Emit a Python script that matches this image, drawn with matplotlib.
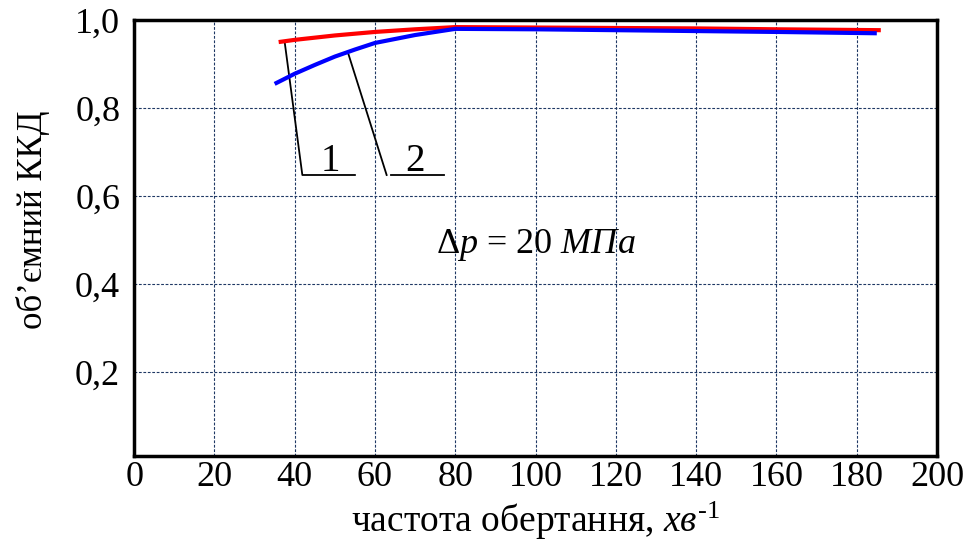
import matplotlib
matplotlib.use("Agg")
import matplotlib.pyplot as plt
from matplotlib.ticker import FixedLocator, FuncFormatter

plt.rcParams['font.family'] = ['Liberation Serif', 'DejaVu Serif']
plt.rcParams['mathtext.fontset'] = 'custom'
plt.rcParams['mathtext.rm'] = 'Liberation Serif'
plt.rcParams['mathtext.it'] = 'Liberation Serif:italic'

# curve 1 (red) and curve 2 (blue): volumetric efficiency vs speed
speed_1 = [36, 40, 50, 60, 70, 80, 100, 120, 140, 160, 186]
eff_1 = [0.950, 0.955, 0.965, 0.973, 0.979, 0.984, 0.983, 0.982, 0.981, 0.979, 0.977]
speed_2 = [35, 40, 45, 50, 55, 60, 70, 80, 100, 120, 140, 160, 185]
eff_2 = [0.855, 0.878, 0.898, 0.917, 0.933, 0.948, 0.966, 0.980, 0.979, 0.977, 0.975, 0.973, 0.970]

x_ticks = [0, 20, 40, 60, 80, 100, 120, 140, 160, 180, 200]
y_ticks = [0.2, 0.4, 0.6, 0.8, 1.0]

# leader lines for curve labels
leader_1_x = [37.5, 41.9, 55.0]
leader_1_y = [0.950, 0.648, 0.648]
leader_2a_x = [53.3, 62.9]
leader_2a_y = [0.925, 0.648]
leader_2b_x = [63.9, 77.1]
leader_2b_y = [0.648, 0.648]

fig = plt.figure(figsize=(9.65, 5.42), dpi=100)
ax = fig.add_axes([0.139, 0.159, 0.832, 0.804])

ax.plot(speed_1, eff_1, color='#ff0000', lw=3.0, solid_capstyle='butt', zorder=3)
ax.plot(speed_2, eff_2, color='#0000ff', lw=3.0, solid_capstyle='butt', zorder=3)

ax.plot(leader_1_x, leader_1_y, color='black', lw=1.3)
ax.plot(leader_2a_x, leader_2a_y, color='black', lw=1.3)
ax.plot(leader_2b_x, leader_2b_y, color='black', lw=1.3)
ax.text(48.8, 0.656, '1', fontsize=28, ha='center', va='baseline')
ax.text(70.0, 0.656, '2', fontsize=28, ha='center', va='baseline')

ax.text(100, 0.49, r'$\Delta\mathit{p}$ = 20 $\mathit{МПа}$', fontsize=26,
        ha='center', va='center')

ax.set_xlim(0, 200)
ax.set_ylim(0.01, 1.0)
ax.xaxis.set_major_locator(FixedLocator(x_ticks))
ax.yaxis.set_major_locator(FixedLocator(y_ticks))
ax.yaxis.set_major_formatter(FuncFormatter(lambda v, p: ('%.1f' % v).replace('.', ',')))
ax.tick_params(axis='both', length=0, labelsize=26)
ax.tick_params(axis='x', pad=4)
ax.tick_params(axis='y', pad=10)

ax.grid(True, color='#1f3864', linestyle=(0, (2.5, 1.5)), lw=0.8)
for s in ax.spines.values():
    s.set_linewidth(2.5)
    s.set_color('black')

ax.set_xlabel(r'частота обертання, $\mathit{хв}^{\text{-}1}$', fontsize=27, labelpad=4)
ax.set_ylabel('об\u2019ємний ККД', fontsize=25)
ax.yaxis.set_label_coords(-0.105, 0.541)

fig.savefig('out.png', dpi=100)
